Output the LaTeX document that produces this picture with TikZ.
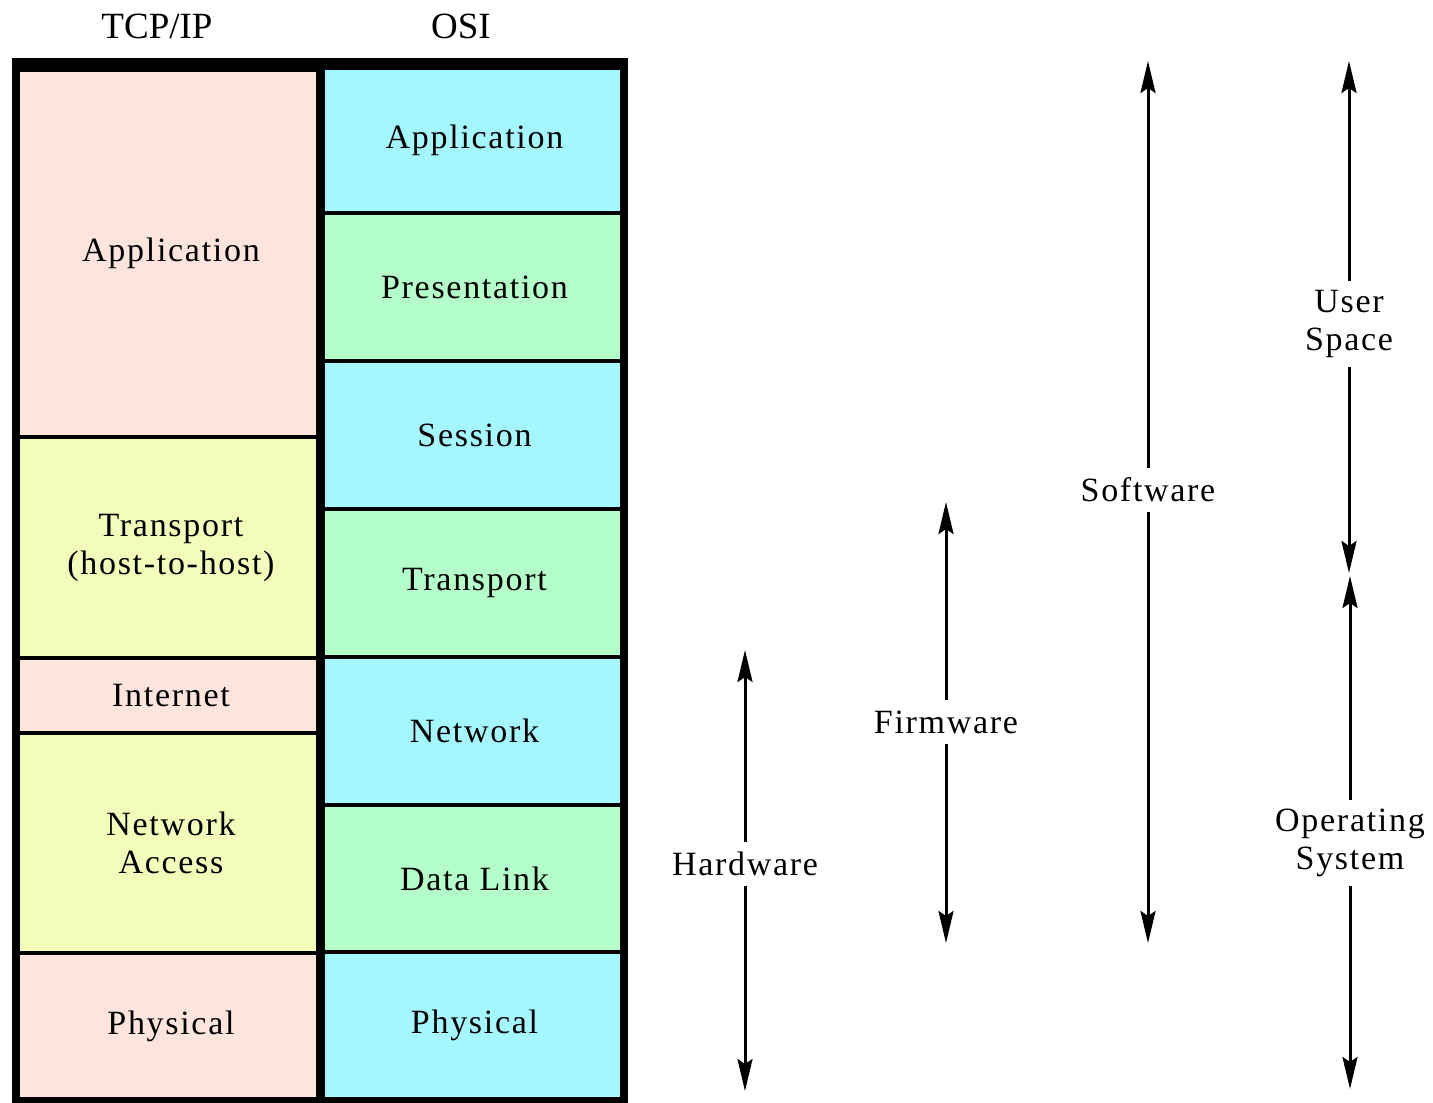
\documentclass[tikz,border=0pt]{standalone}
\usepackage{fontspec}
\setmainfont{Liberation Serif}
\newfontfamily\lblfont{Liberation Serif}[LetterSpace=5]
\usetikzlibrary{arrows.meta}
\definecolor{pinkc}{RGB}{253,229,221}
\definecolor{yelc}{RGB}{243,253,186}
\definecolor{cyanc}{RGB}{164,247,254}
\definecolor{greenc}{RGB}{180,254,202}
\tikzset{
  hdr/.style={font=\fontsize{37}{40}\selectfont, inner sep=0pt},
  cellL/.style={minimum width=296pt, inner sep=0pt, align=center,
    font=\lblfont\fontsize{34}{38}\selectfont},
  cellR/.style={minimum width=295pt, inner sep=0pt, align=center,
    font=\lblfont\fontsize{34}{38}\selectfont},
  lbl/.style={align=center, inner xsep=0pt, inner ysep=9pt, text height=24pt, text depth=1pt,
    font=\lblfont\fontsize{34}{38}\selectfont},
  lbltwo/.style={align=center, inner xsep=0pt, inner ysep=9pt,
    font=\lblfont\fontsize{34}{38}\selectfont},
  arr/.style={line width=3pt, -{Stealth[length=32pt,width=15pt,inset=5pt]}}
}
\begin{document}
\begin{tikzpicture}[x=1pt,y=-1pt]
\useasboundingbox (0,0) rectangle (1433,1103);
% headers
\node[hdr] (htcp) at (157,26) {TCP/IP};
\node[hdr] (hosi) at (461,26) {OSI};
% frame
\fill[black] (12,58) rectangle (628,1104);
% TCP/IP column
\node[cellL, fill=pinkc, minimum height=363pt] (lapp) at (168,253.5) {\hspace*{6pt}Application};
\node[cellL, fill=yelc, minimum height=217pt] (ltra) at (168,547.5) {\hspace*{6pt}Transport\\\hspace*{6pt}(host-to-host)};
\node[cellL, fill=pinkc, minimum height=71pt] (lint) at (168,695.5) {\hspace*{6pt}Internet};
\node[cellL, fill=yelc, minimum height=216pt] (lnet) at (168,843) {\hspace*{6pt}Network\\\hspace*{6pt}Access};
\node[cellL, fill=pinkc, minimum height=142pt] (lphy) at (168,1026) {\hspace*{6pt}Physical};
% OSI column
\node[cellR, fill=cyanc, minimum height=141pt] (rapp) at (472.5,140.5) {\hspace*{4pt}Application};
\node[cellR, fill=greenc, minimum height=144pt] (rpre) at (472.5,287) {\hspace*{4pt}Presentation};
\node[cellR, fill=cyanc, minimum height=144pt] (rses) at (472.5,435) {\hspace*{4pt}Session};
\node[cellR, fill=greenc, minimum height=144pt] (rtra) at (472.5,583) {\hspace*{4pt}Transport};
\node[cellR, fill=cyanc, minimum height=144pt] (rnet) at (472.5,731) {\hspace*{4pt}Network};
\node[cellR, fill=greenc, minimum height=143pt] (rdat) at (472.5,878.5) {\hspace*{4pt}Data Link};
\node[cellR, fill=cyanc, minimum height=143pt] (rphy) at (472.5,1025.5) {\hspace*{4pt}Physical};
% Hardware
\node[lbl] (hw) at (745,864) {Hardware};
\coordinate (hwT) at (745,650);
\coordinate (hwB) at (745,1091);
\draw[arr] (hw.north) -- (hwT);
\draw[arr] (hw.south) -- (hwB);
% Firmware
\node[lbl] (fw) at (946,722) {Firmware};
\coordinate (fwT) at (946,502);
\coordinate (fwB) at (946,943);
\draw[arr] (fw.north) -- (fwT);
\draw[arr] (fw.south) -- (fwB);
% Software
\node[lbl] (sw) at (1148,490) {Software};
\coordinate (swT) at (1148,61);
\coordinate (swB) at (1148,943);
\draw[arr] (sw.north) -- (swT);
\draw[arr] (sw.south) -- (swB);
% User Space
\node[lbltwo] (us) at (1349,324) {User\\Space};
\coordinate (usT) at (1349,61);
\coordinate (usB) at (1349,573);
\draw[arr] (us.north) -- (usT);
\draw[arr] (us.south) -- (usB);
% Operating System
\node[lbltwo] (os) at (1350,843) {Operating\\System};
\coordinate (osT) at (1350,576);
\coordinate (osB) at (1350,1089);
\draw[arr] (os.north) -- (osT);
\draw[arr] (os.south) -- (osB);
\end{tikzpicture}
\end{document}
